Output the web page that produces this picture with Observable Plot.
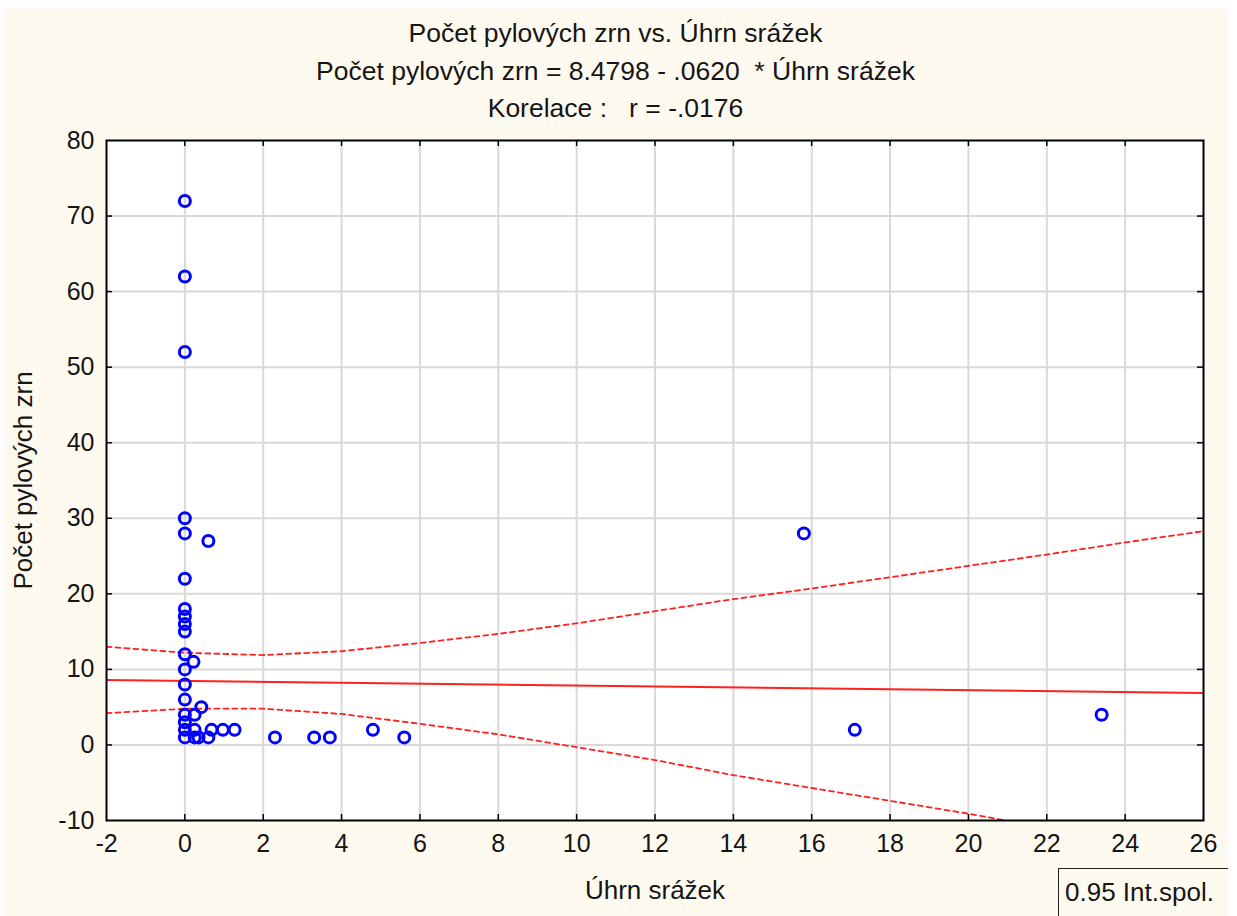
<!DOCTYPE html>
<html>
<head>
<meta charset="utf-8">
<script src="https://cdn.jsdelivr.net/npm/d3@7"></script>
<script src="https://cdn.jsdelivr.net/npm/@observablehq/plot@0.6"></script>
<style>
  body { margin: 0; background: #ffffff; font-family: "Liberation Sans", Arial, sans-serif; }
  #panel { position: absolute; left: 3px; top: 7px; width: 1225px; height: 909px; background: #fffaf0; overflow: hidden; }
  .t { position: absolute; left: 0; width: 1225px; text-align: center; font-size: 26.5px; line-height: 30px; color: #151515; white-space: pre; }
  #legend { position: absolute; left: 1055px; top: 861px; width: 190px; height: 60px; border: 1.5px solid #222; box-sizing: border-box; font-size: 26px; line-height: 30px; color: #151515; padding: 8px 0 0 6px; }
  #chart { position: absolute; left: 0; top: 0; }
</style>
</head>
<body>
<div id="panel">
  <div id="chart"></div>
  <div class="t" id="t1" style="top:11px"></div>
  <div class="t" id="t2" style="top:49px"></div>
  <div class="t" id="t3" style="top:86px"></div>
  <div id="legend"></div>
</div>
<script>
// ---- data ----
const titleLines = [
  "Počet pylových zrn vs. Úhrn srážek",
  "Počet pylových zrn = 8.4798 - .0620  * Úhrn srážek",
  "Korelace :   r = -.0176"
];
const xLabel = "Úhrn srážek";
const yLabel = "Počet pylových zrn";
const legendText = "0.95 Int.spol.";

const xTicks = [-2, 0, 2, 4, 6, 8, 10, 12, 14, 16, 18, 20, 22, 24, 26];
const yTicks = [-10, 0, 10, 20, 30, 40, 50, 60, 70, 80];

// scatter points: precipitation (Úhrn srážek) vs pollen count (Počet pylových zrn)
const rain   = [0, 0, 0, 0, 0, 0, 0, 0, 0, 0, 0, 0, 0, 0, 0, 0, 0, 0,
                0.6, 0.22, 0.42, 0.25, 0.25, 0.25, 0.35, 0.6, 0.68, 0.97, 1.27,
                2.3, 3.3, 3.7, 4.8, 5.6, 15.8, 17.1, 23.4];
const pollen = [72, 62, 52, 30, 28, 22, 18, 17, 16, 15, 12, 10, 8, 6, 4, 3, 2, 1,
                27, 11, 5, 4, 2, 1, 1, 1, 2, 2, 2,
                1, 1, 1, 2, 1, 28, 2, 4];

// regression line endpoints
const fitX = [-2, 26];
const fitY = [8.60, 6.87];

// 0.95 confidence band
const bandX     = [-2, 0, 2, 4, 6, 8, 10, 12, 14, 16, 18, 20, 22, 24, 26];
const bandUpper = [13.0, 12.2, 11.9, 12.4, 13.5, 14.7, 16.1, 17.7, 19.3, 20.7, 22.2, 23.7, 25.2, 26.8, 28.3];
const bandLower = [4.2, 4.8, 4.8, 4.1, 2.8, 1.4, -0.3, -2.0, -4.0, -5.7, -7.4, -9.1, -11.0, -12.8, -14.6];

// ---- build tables ----
const points = rain.map((x, i) => ({x, y: pollen[i]}));
const fit = fitX.map((x, i) => ({x, y: fitY[i]}));
const upper = bandX.map((x, i) => ({x, y: bandUpper[i]}));
const lower = bandX.map((x, i) => ({x, y: bandLower[i]}));

document.getElementById("t1").textContent = titleLines[0];
document.getElementById("t2").textContent = titleLines[1];
document.getElementById("t3").textContent = titleLines[2];
document.getElementById("legend").textContent = legendText;

const W = 1225, H = 909;
const mL = 103, mT = 133, mR = 25, mB = 96;
const fw = W - mL - mR, fh = H - mT - mB;
const tk = 6;
const innerX = xTicks.slice(1, -1);
const innerY = yTicks.slice(1, -1);
const red = "#ff2020";
const fmt = d => String(d);

const chart = Plot.plot({
  width: W,
  height: H,
  marginLeft: mL, marginTop: mT, marginRight: mR, marginBottom: mB,
  style: { background: "transparent", fontFamily: "Liberation Sans, Arial, sans-serif", fontSize: "25px", color: "#151515" },
  x: { domain: [-2, 26], ticks: xTicks, label: null },
  y: { domain: [-10, 80], ticks: yTicks, label: null },
  marks: [
    Plot.frame({ fill: "white", stroke: "none" }),
    Plot.gridX(innerX, { stroke: "#d9d9d9", strokeWidth: 2, strokeOpacity: 1 }),
    Plot.gridY(innerY, { stroke: "#d9d9d9", strokeWidth: 2, strokeOpacity: 1 }),
    Plot.line(upper, { x: "x", y: "y", stroke: red, strokeWidth: 1.8, strokeDasharray: "5,4", clip: true }),
    Plot.line(lower, { x: "x", y: "y", stroke: red, strokeWidth: 1.8, strokeDasharray: "5,4", clip: true }),
    Plot.line(fit, { x: "x", y: "y", stroke: red, strokeWidth: 2, clip: true }),
    Plot.dot(points, { x: "x", y: "y", r: 5.5, stroke: "#0000ff", strokeWidth: 3, fill: "none" }),
    // inward ticks on all four sides
    Plot.ruleX(innerX, { stroke: "#000", strokeWidth: 1.5, insetTop: fh - tk }),
    Plot.ruleX(innerX, { stroke: "#000", strokeWidth: 1.5, insetBottom: fh - tk }),
    Plot.ruleY(innerY, { stroke: "#000", strokeWidth: 1.5, insetRight: fw - tk }),
    Plot.ruleY(innerY, { stroke: "#000", strokeWidth: 1.5, insetLeft: fw - tk }),
    Plot.frame({ stroke: "#000", strokeWidth: 2 }),
    Plot.axisX(xTicks, { tickSize: 0, tickPadding: 14, fontSize: 25, fill: "#151515", label: null, tickFormat: fmt }),
    Plot.axisY(yTicks, { tickSize: 0, tickPadding: 12, fontSize: 25, fill: "#151515", label: null, tickFormat: fmt }),
    Plot.text([xLabel], { frameAnchor: "bottom", dy: 70, fontSize: 26, fill: "#151515", lineAnchor: "middle", textAnchor: "middle" }),
    Plot.text([yLabel], { frameAnchor: "left", dx: -83, rotate: -90, fontSize: 26, fill: "#151515", lineAnchor: "middle", textAnchor: "middle" })
  ]
});
document.getElementById("chart").appendChild(chart);
</script>
</body>
</html>
